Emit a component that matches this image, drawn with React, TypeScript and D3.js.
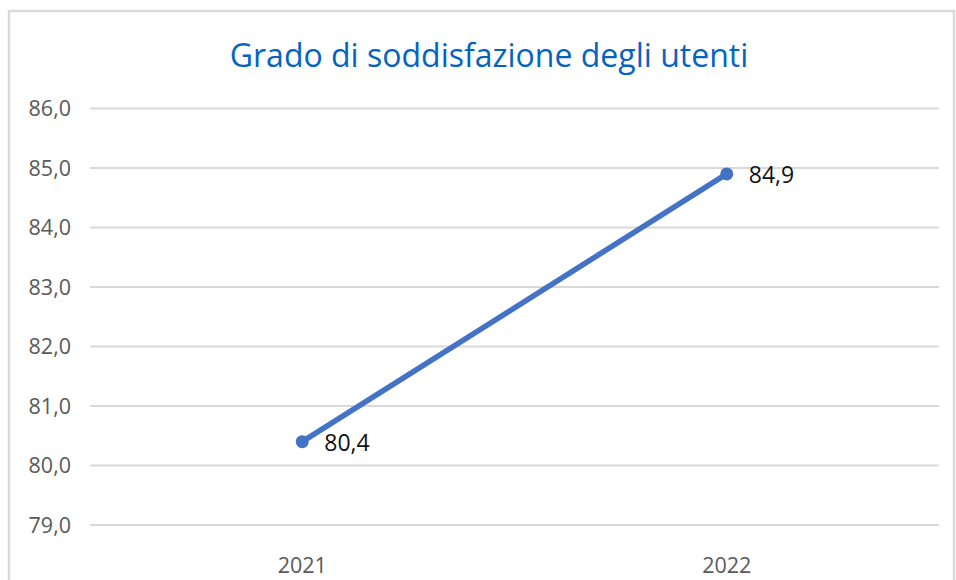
import React, { useEffect, useRef } from "react";
import * as d3 from "d3";

const categories = ["2021", "2022"];
const values = [80.4, 84.9];
const yTicks = [79, 80, 81, 82, 83, 84, 85, 86];
const title = "Grado di soddisfazione degli utenti";

const W = 956;
const H = 580;

export default function App() {
  const ref = useRef<SVGSVGElement | null>(null);

  useEffect(() => {
    document.body.style.margin = "0";
    const svg = d3.select(ref.current);
    svg.selectAll("*").remove();

    const font = "'Open Sans', 'Noto Sans', sans-serif";
    const left = 90, right = 939, top = 108.5, bottom = 525;

    svg.append("rect").attr("x", 0).attr("y", 0).attr("width", W).attr("height", H).attr("fill", "#fff");
    svg.append("rect")
      .attr("x", 9).attr("y", 11).attr("width", 945).attr("height", 600)
      .attr("fill", "none").attr("stroke", "#d9d9d9").attr("stroke-width", 2.5);

    const x = d3.scaleBand<string>().domain(categories).range([left, right]);
    const y = d3.scaleLinear().domain([79, 86]).range([bottom, top]);

    svg.append("text")
      .attr("x", 489).attr("y", 67)
      .attr("text-anchor", "middle")
      .attr("font-family", font).attr("font-size", 32)
      .attr("fill", "#0563C1")
      .text(title);

    const g = svg.append("g");
    g.selectAll("line.grid").data(yTicks).join("line")
      .attr("class", "grid")
      .attr("x1", left).attr("x2", right)
      .attr("y1", (d) => y(d)).attr("y2", (d) => y(d))
      .attr("stroke", "#d9d9d9").attr("stroke-width", 2);

    g.selectAll("text.ytick").data(yTicks).join("text")
      .attr("class", "ytick")
      .attr("x", 71).attr("y", (d) => y(d) + 7.5)
      .attr("text-anchor", "end")
      .attr("font-family", font).attr("font-size", 21.5)
      .attr("fill", "#595959")
      .text((d) => d3.format(".1f")(d).replace(".", ","));

    g.selectAll("text.xtick").data(categories).join("text")
      .attr("class", "xtick")
      .attr("x", (d) => (x(d) as number) + x.bandwidth() / 2)
      .attr("y", 573)
      .attr("text-anchor", "middle")
      .attr("font-family", font).attr("font-size", 21.5)
      .attr("fill", "#595959")
      .text((d) => d);

    const pts = categories.map((c, i) => [(x(c) as number) + x.bandwidth() / 2, y(values[i])] as [number, number]);
    const line = d3.line();
    svg.append("path")
      .attr("d", line(pts))
      .attr("fill", "none").attr("stroke", "#4472C4").attr("stroke-width", 5.5)
      .attr("stroke-linecap", "round");

    svg.selectAll("circle.pt").data(pts).join("circle")
      .attr("class", "pt")
      .attr("cx", (d) => d[0]).attr("cy", (d) => d[1]).attr("r", 6.5)
      .attr("fill", "#4472C4");

    svg.selectAll("text.lbl").data(pts).join("text")
      .attr("class", "lbl")
      .attr("x", (d) => d[0] + 22).attr("y", (d) => d[1] + 9)
      .attr("font-family", font).attr("font-size", 23)
      .attr("fill", "#111")
      .text((_, i) => d3.format(".1f")(values[i]).replace(".", ","));
  }, []);

  return <svg ref={ref} width={W} height={H} style={{ display: "block" }} />;
}
